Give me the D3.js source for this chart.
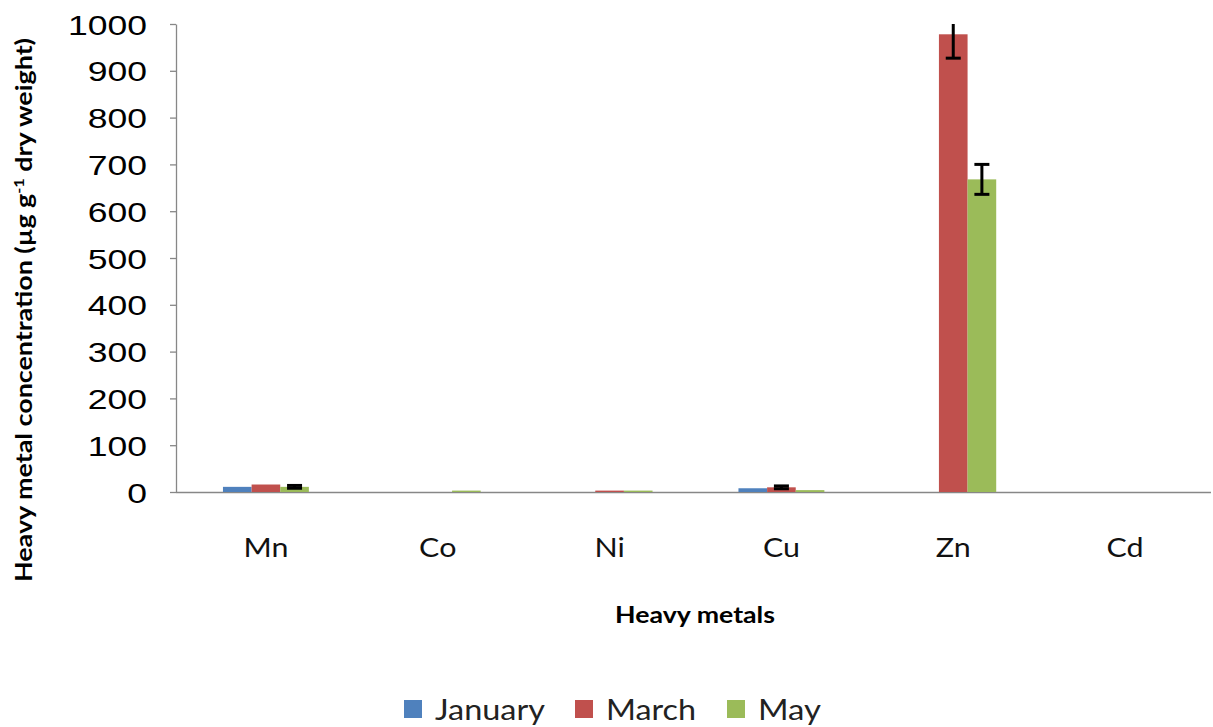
<!DOCTYPE html>
<html><head><meta charset="utf-8">
<script src="https://cdn.jsdelivr.net/npm/d3@7"></script>
<style>body{margin:0;background:#fff} svg{display:block}</style>
</head><body>
<svg id="chart" width="1213" height="727"></svg>
<script>
// ---- data ----
const categories = ["Mn", "Co", "Ni", "Cu", "Zn", "Cd"];
const seriesNames = ["January", "March", "May"];
const january = [11, 0, 0, 8, 0, 0];
const march   = [16, 0, 3, 10, 978, 0];
const may     = [11, 3, 3, 4, 668, 0];
const januaryErr = [0, 0, 0, 0, 0, 0];
const marchErr   = [0, 0, 0, 3, 51, 0];
const mayErr     = [3, 0, 0, 0, 32, 0];
const yTicks = [0, 100, 200, 300, 400, 500, 600, 700, 800, 900, 1000];
const xTitle = "Heavy metals";
const colors = ["#4F81BD", "#C0504D", "#9BBB59"];

const seriesValues = [january, march, may];
const seriesErrs = [januaryErr, marchErr, mayErr];

const svg = d3.select("#chart");
const axisColor = "#878787";

const x = d3.scaleBand().domain(categories).range([180, 1211]).paddingInner(0.5).paddingOuter(0.25);
const xs = d3.scaleBand().domain(seriesNames).range([0, x.bandwidth()]);
const y = d3.scaleLinear().domain([0, 1000]).range([492, 24]);
const color = d3.scaleOrdinal().domain(seriesNames).range(colors);

// ---- y axis ----
const gy = svg.append("g").attr("transform", "translate(176,0)")
  .call(d3.axisLeft(y).tickValues(yTicks).tickFormat(d3.format("d")).tickSize(6).tickSizeOuter(0));
gy.select(".domain").attr("stroke", axisColor).attr("stroke-width", 1.3);
gy.selectAll(".tick line").attr("stroke", axisColor).attr("stroke-width", 1.3);
const ty = gy.selectAll(".tick text")
  .attr("font-family", "'Liberation Sans', Arial, sans-serif")
  .attr("font-size", 28).attr("fill", "#000").attr("x", 0).attr("dy", "0.36em");
const len1000 = ty.filter(d => d === 1000).node().getComputedTextLength();
const sxT = 79 / len1000;
ty.attr("transform", `translate(-29,0) scale(${sxT},1)`);

// ---- x axis ----
svg.append("line").attr("x1", 176).attr("x2", 1211)
  .attr("y1", y(0) + 0.5).attr("y2", y(0) + 0.5)
  .attr("stroke", axisColor).attr("stroke-width", 1.6);
const gx = svg.append("g").attr("transform", `translate(0,${y(0)})`)
  .call(d3.axisBottom(x).tickSize(0));
gx.select(".domain").remove();
const tx = gx.selectAll(".tick text")
  .attr("font-family", "Lato, 'Open Sans', sans-serif")
  .attr("font-size", 26).attr("fill", "#111").attr("y", 0).attr("dy", null);
const lenMn = tx.filter(d => d === "Mn").node().getComputedTextLength();
const sxC = 45 / lenMn;
tx.attr("transform", `translate(0,65) scale(${sxC},1)`);

// ---- bars ----
const groups = svg.append("g").selectAll("g").data(seriesNames).join("g")
  .attr("fill", d => color(d));
groups.selectAll("rect")
  .data((s, si) => categories.map((c, ci) => ({ s, c, v: seriesValues[si][ci], e: seriesErrs[si][ci] })))
  .join("rect")
  .attr("x", d => x(d.c) + xs(d.s))
  .attr("width", xs.bandwidth())
  .attr("y", d => y(d.v))
  .attr("height", d => y(0) - y(d.v));

// ---- error bars ----
const errData = [];
seriesNames.forEach((s, si) => categories.forEach((c, ci) => {
  if (seriesErrs[si][ci] > 0) errData.push({ s, c, v: seriesValues[si][ci], e: seriesErrs[si][ci] });
}));
const [yMin, yMax] = y.domain();
const capW = 15;
const eg = svg.append("g").attr("stroke", "#000").attr("stroke-width", 3);
errData.forEach(d => {
  const cx = x(d.c) + xs(d.s) + xs.bandwidth() / 2;
  const lo = Math.max(yMin, d.v - d.e), hi = Math.min(yMax, d.v + d.e);
  eg.append("line").attr("x1", cx).attr("x2", cx).attr("y1", y(lo)).attr("y2", y(hi));
  if (d.v - d.e >= yMin) eg.append("line").attr("x1", cx - capW / 2).attr("x2", cx + capW / 2).attr("y1", y(lo)).attr("y2", y(lo));
  if (d.v + d.e <= yMax) eg.append("line").attr("x1", cx - capW / 2).attr("x2", cx + capW / 2).attr("y1", y(hi)).attr("y2", y(hi));
});

// ---- titles ----
svg.append("text").attr("x", 695).attr("y", 622.5).attr("text-anchor", "middle")
  .attr("font-family", "Lato, 'Open Sans', sans-serif").attr("font-weight", "bold")
  .attr("font-size", 22).attr("fill", "#000")
  .attr("textLength", 160).attr("lengthAdjust", "spacingAndGlyphs")
  .text(xTitle);

const yt = svg.append("text").attr("transform", "translate(32,310) rotate(-90)")
  .attr("text-anchor", "middle")
  .attr("font-family", "Lato, 'Open Sans', sans-serif").attr("font-weight", "bold")
  .attr("font-size", 23).attr("fill", "#000")
  .attr("textLength", 544).attr("lengthAdjust", "spacingAndGlyphs");
yt.append("tspan").text("Heavy metal concentration (µg g");
yt.append("tspan").attr("baseline-shift", "super").attr("font-size", 14).text("-1");
yt.append("tspan").text(" dry weight)");

// ---- legend ----
const legX = [404, 575, 727];
const legTextW = [110, 90, 63];
const leg = svg.append("g").selectAll("g").data(seriesNames).join("g")
  .attr("transform", (d, i) => `translate(${legX[i]},700)`);
leg.append("rect").attr("width", 18).attr("height", 18).attr("fill", d => color(d));
leg.append("text").attr("x", 31).attr("y", 19.5)
  .attr("font-family", "Lato, 'Open Sans', sans-serif").attr("font-size", 28).attr("fill", "#222")
  .attr("textLength", (d, i) => legTextW[i]).attr("lengthAdjust", "spacingAndGlyphs")
  .text(d => d);
</script>
</body></html>
